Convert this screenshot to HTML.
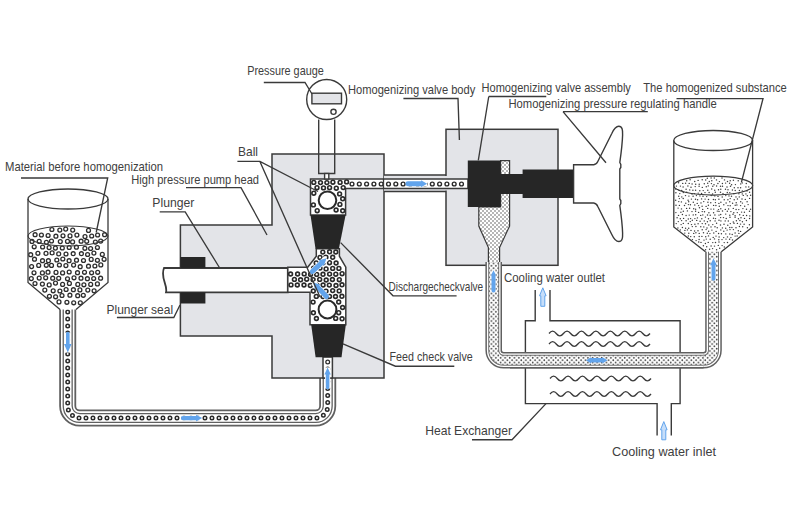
<!DOCTYPE html><html><head><meta charset="utf-8"><style>html,body{margin:0;padding:0;background:#fff}svg{display:block}</style></head><body>
<svg width="800" height="520" viewBox="0 0 800 520">
<defs><pattern id="stip" width="4.6" height="4.6" patternUnits="userSpaceOnUse" x="0.3" y="0.2"><rect width="4.6" height="4.6" fill="#fff"/><circle cx="1.15" cy="1.15" r="0.85" fill="#3a3a3a"/><circle cx="3.45" cy="3.45" r="0.85" fill="#3a3a3a"/></pattern><pattern id="stip2" width="4" height="4" patternUnits="userSpaceOnUse"><rect width="4" height="4" fill="#fff"/><circle cx="1" cy="1" r="0.75" fill="#4a4a4a"/><circle cx="3" cy="3" r="0.75" fill="#4a4a4a"/></pattern></defs>
<rect width="800" height="520" fill="#fff"/>
<path d="M67.7,305 V406 A12,12 0 0 0 79.7,418 H315.7 A12,12 0 0 0 327.7,406 V370" fill="none" stroke="#606060" stroke-width="17"/><path d="M67.7,305 V406 A12,12 0 0 0 79.7,418 H315.7 A12,12 0 0 0 327.7,406 V370" fill="none" stroke="#fff" stroke-width="13.4"/><path d="M67.7,305 V406 A12,12 0 0 0 79.7,418 H315.7 A12,12 0 0 0 327.7,406 V370" fill="none" stroke="#606060" stroke-width="10.2"/><path d="M67.7,305 V406 A12,12 0 0 0 79.7,418 H315.7 A12,12 0 0 0 327.7,406 V370" fill="none" stroke="#fff" stroke-width="7.6"/><path d="M67.7,305 V406 A12,12 0 0 0 79.7,418 H315.7 A12,12 0 0 0 327.7,406 V370" fill="none" stroke="#2a2a2a" stroke-width="5.0" stroke-dasharray="0 7" stroke-linecap="round"/><path d="M67.7,305 V406 A12,12 0 0 0 79.7,418 H315.7 A12,12 0 0 0 327.7,406 V370" fill="none" stroke="#fff" stroke-width="2.0" stroke-dasharray="0 7" stroke-linecap="round"/>
<polygon points="28.0,236.0 28.2,235.0 28.9,233.9 30.0,232.9 31.5,231.9 33.4,231.0 35.6,230.1 38.3,229.3 41.2,228.6 44.5,227.9 48.0,227.3 51.7,226.9 55.6,226.5 59.7,226.2 63.8,226.1 68.0,226.0 72.2,226.1 76.3,226.2 80.4,226.5 84.3,226.9 88.0,227.3 91.5,227.9 94.8,228.6 97.7,229.3 100.4,230.1 102.6,231.0 104.5,231.9 106.0,232.9 107.1,233.9 107.8,235.0 108.0,236.0 108.0,282.5 76.0,309.5 60.0,309.5 28.0,282.5" fill="#fff"/>
<g fill="none" stroke="#2e2e2e" stroke-width="1.3"><circle cx="51.9" cy="229.5" r="1.95"/><circle cx="59.8" cy="230.1" r="1.95"/><circle cx="65.7" cy="229.1" r="1.95"/><circle cx="72.7" cy="230.1" r="1.95"/><circle cx="88.5" cy="230.4" r="1.95"/><circle cx="35.1" cy="234.7" r="1.95"/><circle cx="41.4" cy="235.0" r="1.95"/><circle cx="48.1" cy="235.5" r="1.95"/><circle cx="55.9" cy="236.2" r="1.95"/><circle cx="63.0" cy="235.8" r="1.95"/><circle cx="70.0" cy="235.9" r="1.95"/><circle cx="76.9" cy="235.1" r="1.95"/><circle cx="85.0" cy="236.6" r="1.95"/><circle cx="91.7" cy="236.0" r="1.95"/><circle cx="97.6" cy="235.0" r="1.95"/><circle cx="104.6" cy="234.7" r="1.95"/><circle cx="32.0" cy="241.4" r="1.95"/><circle cx="39.2" cy="241.4" r="1.95"/><circle cx="46.4" cy="242.3" r="1.95"/><circle cx="51.5" cy="241.0" r="1.95"/><circle cx="60.3" cy="241.6" r="1.95"/><circle cx="67.5" cy="241.4" r="1.95"/><circle cx="72.6" cy="241.9" r="1.95"/><circle cx="81.1" cy="241.2" r="1.95"/><circle cx="86.7" cy="241.3" r="1.95"/><circle cx="95.4" cy="242.1" r="1.95"/><circle cx="100.7" cy="241.1" r="1.95"/><circle cx="34.2" cy="246.8" r="1.95"/><circle cx="42.6" cy="247.0" r="1.95"/><circle cx="49.1" cy="247.6" r="1.95"/><circle cx="55.4" cy="248.1" r="1.95"/><circle cx="62.3" cy="248.0" r="1.95"/><circle cx="69.2" cy="247.5" r="1.95"/><circle cx="76.4" cy="247.2" r="1.95"/><circle cx="84.9" cy="248.3" r="1.95"/><circle cx="90.6" cy="248.5" r="1.95"/><circle cx="97.4" cy="247.5" r="1.95"/><circle cx="30.7" cy="254.7" r="1.95"/><circle cx="37.9" cy="253.3" r="1.95"/><circle cx="46.0" cy="253.4" r="1.95"/><circle cx="52.1" cy="252.9" r="1.95"/><circle cx="58.7" cy="253.9" r="1.95"/><circle cx="66.0" cy="254.0" r="1.95"/><circle cx="73.2" cy="253.7" r="1.95"/><circle cx="81.4" cy="253.7" r="1.95"/><circle cx="87.6" cy="254.5" r="1.95"/><circle cx="93.9" cy="253.1" r="1.95"/><circle cx="102.3" cy="254.4" r="1.95"/><circle cx="34.5" cy="259.2" r="1.95"/><circle cx="42.5" cy="260.7" r="1.95"/><circle cx="48.4" cy="260.7" r="1.95"/><circle cx="56.8" cy="260.0" r="1.95"/><circle cx="62.8" cy="259.0" r="1.95"/><circle cx="69.1" cy="260.7" r="1.95"/><circle cx="76.5" cy="260.2" r="1.95"/><circle cx="83.5" cy="260.5" r="1.95"/><circle cx="91.2" cy="259.4" r="1.95"/><circle cx="97.4" cy="260.3" r="1.95"/><circle cx="104.1" cy="259.3" r="1.95"/><circle cx="31.6" cy="266.6" r="1.95"/><circle cx="38.7" cy="265.4" r="1.95"/><circle cx="46.3" cy="265.3" r="1.95"/><circle cx="51.5" cy="265.4" r="1.95"/><circle cx="59.4" cy="265.0" r="1.95"/><circle cx="65.9" cy="265.6" r="1.95"/><circle cx="73.6" cy="265.1" r="1.95"/><circle cx="80.2" cy="266.7" r="1.95"/><circle cx="88.5" cy="266.2" r="1.95"/><circle cx="94.9" cy="266.0" r="1.95"/><circle cx="100.8" cy="264.9" r="1.95"/><circle cx="34.0" cy="272.8" r="1.95"/><circle cx="42.4" cy="272.9" r="1.95"/><circle cx="48.0" cy="272.2" r="1.95"/><circle cx="56.0" cy="272.4" r="1.95"/><circle cx="62.6" cy="272.9" r="1.95"/><circle cx="69.2" cy="272.0" r="1.95"/><circle cx="77.5" cy="272.7" r="1.95"/><circle cx="84.5" cy="272.3" r="1.95"/><circle cx="91.6" cy="272.8" r="1.95"/><circle cx="97.7" cy="272.3" r="1.95"/><circle cx="31.3" cy="278.6" r="1.95"/><circle cx="39.2" cy="278.1" r="1.95"/><circle cx="45.7" cy="277.8" r="1.95"/><circle cx="52.7" cy="278.2" r="1.95"/><circle cx="58.7" cy="278.3" r="1.95"/><circle cx="67.5" cy="278.8" r="1.95"/><circle cx="74.0" cy="277.8" r="1.95"/><circle cx="81.0" cy="278.2" r="1.95"/><circle cx="87.4" cy="278.7" r="1.95"/><circle cx="93.7" cy="278.5" r="1.95"/><circle cx="100.6" cy="278.2" r="1.95"/><circle cx="35.0" cy="283.5" r="1.95"/><circle cx="42.4" cy="284.1" r="1.95"/><circle cx="49.2" cy="284.9" r="1.95"/><circle cx="55.5" cy="283.1" r="1.95"/><circle cx="62.6" cy="284.4" r="1.95"/><circle cx="69.4" cy="283.4" r="1.95"/><circle cx="77.8" cy="284.4" r="1.95"/><circle cx="83.9" cy="284.8" r="1.95"/><circle cx="90.7" cy="284.4" r="1.95"/><circle cx="97.4" cy="283.9" r="1.95"/><circle cx="44.8" cy="290.1" r="1.95"/><circle cx="53.2" cy="290.8" r="1.95"/><circle cx="59.9" cy="291.0" r="1.95"/><circle cx="66.1" cy="289.5" r="1.95"/><circle cx="73.4" cy="289.7" r="1.95"/><circle cx="79.9" cy="289.9" r="1.95"/><circle cx="87.8" cy="290.1" r="1.95"/><circle cx="94.1" cy="290.8" r="1.95"/><circle cx="49.4" cy="296.3" r="1.95"/><circle cx="55.6" cy="296.8" r="1.95"/><circle cx="62.0" cy="295.5" r="1.95"/><circle cx="69.9" cy="295.2" r="1.95"/><circle cx="77.7" cy="295.7" r="1.95"/><circle cx="83.3" cy="295.3" r="1.95"/><circle cx="59.0" cy="301.9" r="1.95"/><circle cx="66.9" cy="302.3" r="1.95"/><circle cx="73.7" cy="302.8" r="1.95"/><circle cx="80.3" cy="302.8" r="1.95"/></g>
<g fill="none" stroke="#3a3a3a" stroke-width="1.3">
<ellipse cx="68" cy="199" rx="40" ry="10"/>
<ellipse cx="68" cy="236" rx="40" ry="10" stroke-width="1.1"/>
<path d="M28,199 V282.5 L60,309.5 M108,199 V282.5 L76,309.5"/>
</g>
<rect x="318.7" y="119.5" width="16" height="35" fill="#fff"/>
<polygon points="272,154 384,154 384,378 272,378 272,336 180.4,336 180.4,225 272,225" fill="#e3e4e8" stroke="#3a3a3a" stroke-width="1.5"/>
<rect x="384" y="175" width="62" height="16.5" fill="#e3e4e8"/>
<path d="M384,175 H446 M384,191.5 H446" stroke="#3a3a3a" stroke-width="1.4"/>
<rect x="446" y="129.3" width="112" height="136" fill="#e3e4e8" stroke="#3a3a3a" stroke-width="1.5"/>
<rect x="445" y="176" width="3" height="14.5" fill="#e3e4e8"/>
<path d="M164,268 H287.8 V292.3 H166 C168,285 160,278 164,268 Z" fill="#fff" stroke="#3a3a3a" stroke-width="1.8"/>
<rect x="180.4" y="257" width="25" height="11" fill="#262626"/>
<rect x="180.4" y="292.3" width="25" height="11.2" fill="#262626"/>
<polygon points="310.5,215 310.5,179 468,179 468,188.5 345.6,188.5 345.6,215" fill="#fff" stroke="#3a3a3a" stroke-width="1.5"/>
<polygon points="316.3,248.7 339.4,248.7 339.4,256.2 345.8,267.1 345.8,324.8 310,324.8 310,292.3 287.8,292.3 287.8,267.3 307.7,267.3 316.3,256.2" fill="#fff" stroke="#3a3a3a" stroke-width="1.5"/>
<polygon points="323.0,357 332.4,357 332.4,378 323.0,378" fill="#fff" stroke="#3a3a3a" stroke-width="1.5"/>
<g fill="none" stroke="#2a2a2a" stroke-width="1.6"><circle cx="313.8" cy="182.4" r="1.9"/><circle cx="320.5" cy="182.6" r="1.9"/><circle cx="326.9" cy="182.6" r="1.9"/><circle cx="332.9" cy="182.2" r="1.9"/><circle cx="340.1" cy="182.4" r="1.9"/><circle cx="346.6" cy="181.9" r="1.9"/><circle cx="317.0" cy="187.7" r="1.9"/><circle cx="323.5" cy="187.9" r="1.9"/><circle cx="329.6" cy="187.7" r="1.9"/><circle cx="336.3" cy="188.2" r="1.9"/><circle cx="343.2" cy="187.6" r="1.9"/><circle cx="313.8" cy="193.2" r="1.9"/><circle cx="339.6" cy="193.9" r="1.9"/><circle cx="342.7" cy="198.8" r="1.9"/><circle cx="313.4" cy="204.9" r="1.9"/><circle cx="339.9" cy="204.4" r="1.9"/><circle cx="317.2" cy="210.7" r="1.9"/><circle cx="336.1" cy="210.0" r="1.9"/><circle cx="342.7" cy="210.8" r="1.9"/></g>
<path d="M352,184 H466" stroke="#2a2a2a" stroke-width="5.2" stroke-dasharray="0 7.3" stroke-linecap="round"/><path d="M352,184 H466" stroke="#fff" stroke-width="2.4" stroke-dasharray="0 7.3" stroke-linecap="round"/>
<g fill="none" stroke="#2a2a2a" stroke-width="1.6"><circle cx="322.8" cy="252.1" r="1.9"/><circle cx="329.6" cy="251.8" r="1.9"/><circle cx="335.8" cy="252.0" r="1.9"/><circle cx="320.0" cy="257.4" r="1.9"/><circle cx="325.9" cy="257.2" r="1.9"/><circle cx="332.7" cy="257.3" r="1.9"/><circle cx="316.2" cy="262.9" r="1.9"/><circle cx="323.1" cy="262.8" r="1.9"/><circle cx="329.5" cy="262.7" r="1.9"/><circle cx="336.1" cy="263.0" r="1.9"/><circle cx="313.6" cy="268.1" r="1.9"/><circle cx="320.0" cy="268.1" r="1.9"/><circle cx="326.1" cy="268.9" r="1.9"/><circle cx="332.7" cy="268.4" r="1.9"/><circle cx="338.9" cy="268.4" r="1.9"/><circle cx="290.6" cy="274.0" r="1.9"/><circle cx="297.6" cy="274.0" r="1.9"/><circle cx="304.2" cy="273.9" r="1.9"/><circle cx="310.6" cy="274.4" r="1.9"/><circle cx="316.7" cy="274.4" r="1.9"/><circle cx="323.0" cy="274.3" r="1.9"/><circle cx="329.6" cy="274.1" r="1.9"/><circle cx="335.8" cy="274.2" r="1.9"/><circle cx="342.1" cy="273.7" r="1.9"/><circle cx="294.4" cy="279.4" r="1.9"/><circle cx="300.6" cy="279.8" r="1.9"/><circle cx="306.7" cy="279.2" r="1.9"/><circle cx="313.1" cy="279.7" r="1.9"/><circle cx="319.7" cy="279.4" r="1.9"/><circle cx="326.2" cy="280.0" r="1.9"/><circle cx="332.4" cy="279.5" r="1.9"/><circle cx="339.3" cy="279.7" r="1.9"/><circle cx="291.0" cy="284.9" r="1.9"/><circle cx="297.3" cy="285.0" r="1.9"/><circle cx="304.0" cy="285.0" r="1.9"/><circle cx="310.3" cy="285.5" r="1.9"/><circle cx="316.9" cy="285.1" r="1.9"/><circle cx="323.1" cy="285.0" r="1.9"/><circle cx="329.3" cy="285.1" r="1.9"/><circle cx="336.0" cy="285.5" r="1.9"/><circle cx="342.0" cy="284.8" r="1.9"/><circle cx="313.3" cy="291.0" r="1.9"/><circle cx="320.1" cy="290.3" r="1.9"/><circle cx="326.0" cy="291.1" r="1.9"/><circle cx="332.7" cy="290.6" r="1.9"/><circle cx="339.2" cy="290.9" r="1.9"/><circle cx="316.3" cy="296.4" r="1.9"/><circle cx="323.0" cy="296.6" r="1.9"/><circle cx="329.5" cy="296.4" r="1.9"/><circle cx="335.5" cy="296.5" r="1.9"/><circle cx="341.9" cy="296.3" r="1.9"/><circle cx="313.1" cy="302.1" r="1.9"/><circle cx="338.7" cy="302.0" r="1.9"/><circle cx="342.6" cy="307.5" r="1.9"/><circle cx="313.4" cy="312.8" r="1.9"/><circle cx="338.7" cy="312.7" r="1.9"/><circle cx="316.4" cy="318.5" r="1.9"/><circle cx="335.7" cy="318.4" r="1.9"/><circle cx="342.1" cy="318.8" r="1.9"/></g>
<path d="M327.7,362 V376" stroke="#2a2a2a" stroke-width="5" stroke-dasharray="0 7" stroke-linecap="round"/><path d="M327.7,362 V376" stroke="#fff" stroke-width="2.5" stroke-dasharray="0 7" stroke-linecap="round"/>
<circle cx="327.5" cy="200.3" r="8.8" fill="#fff" stroke="#2a2a2a" stroke-width="2"/>
<circle cx="327.5" cy="309.5" r="8.9" fill="#fff" stroke="#2a2a2a" stroke-width="2"/>
<polygon points="310.5,215 345.6,215 338.9,248.7 315.5,248.7" fill="#262626"/>
<polygon points="311.2,324.8 345.8,324.8 341.5,357.3 315.6,357.3" fill="#262626"/>
<path d="M383.5,179 V188.5" stroke="#3a3a3a" stroke-width="1.3"/>
<g stroke="#3a3a3a" stroke-width="1.4" fill="none">
<path d="M318.7,119.5 V173.5 H334.7 V119.5"/>
<rect x="324.6" y="173.5" width="4.2" height="5.5" fill="#fff"/>
<circle cx="326.7" cy="99.5" r="20" fill="#fff"/>
<rect x="311.9" y="93.2" width="29.6" height="10.6" fill="#e3e4e8"/>
<circle cx="333.5" cy="111.8" r="2.6"/>
</g>
<polygon points="500.6,160.6 509.6,160.6 509.6,226 499.6,247.6 499.6,265.3 488.4,265.3 488.4,247.6 478.8,226 478.8,207 500.6,207" fill="url(#stip2)" stroke="#3a3a3a" stroke-width="1.2"/>
<path d="M467.8,160.6 H500.6 V174 H522.6 V169.5 H573.7 V197.9 H522.6 V193.9 H500.6 V206.9 H467.8 Z" fill="#262626"/>
<path d="M573.6,164.8 H593.7 Q596.5,164.5 597.8,161.5 L611.8,133.5 C613.8,129 616.3,126.2 618.8,126.2 C622.3,126.2 622.8,130 622.6,135 C622.3,145 621,154 619.8,162.5 L620.8,164.5 V167.5 L619.8,169 V199 L620.8,200.5 V203.5 L619.8,205.5 C621,214 622.3,223 622.6,233 C622.8,238 622.3,241.5 618.8,241.5 C616.3,241.5 613.8,238.8 611.8,234.5 L597.8,206.5 Q596.5,203.3 593.7,203 H573.6 Z" fill="#fff" stroke="#3a3a3a" stroke-width="1.4"/>
<path d="M493.7,262 V350.3 A10,10 0 0 0 503.7,360.3 H703.5 A10,10 0 0 0 713.5,350.3 V248" fill="none" stroke="#606060" stroke-width="16.6"/><path d="M493.7,262 V350.3 A10,10 0 0 0 503.7,360.3 H703.5 A10,10 0 0 0 713.5,350.3 V248" fill="none" stroke="#fff" stroke-width="13.6"/><path d="M493.7,262 V350.3 A10,10 0 0 0 503.7,360.3 H703.5 A10,10 0 0 0 713.5,350.3 V248" fill="none" stroke="#707070" stroke-width="11.0"/><path d="M493.7,262 V350.3 A10,10 0 0 0 503.7,360.3 H703.5 A10,10 0 0 0 713.5,350.3 V248" fill="none" stroke="url(#stip)" stroke-width="9.0"/>
<polygon points="673.5,185.6 673.7,184.6 674.4,183.6 675.4,182.7 676.9,181.7 678.8,180.8 681.0,180.0 683.6,179.2 686.6,178.5 689.8,177.9 693.2,177.4 696.9,176.9 700.8,176.6 704.8,176.3 708.9,176.2 713.0,176.1 717.1,176.2 721.2,176.3 725.2,176.6 729.1,176.9 732.8,177.4 736.2,177.9 739.4,178.5 742.4,179.2 745.0,180.0 747.2,180.8 749.1,181.7 750.6,182.7 751.6,183.6 752.3,184.6 752.5,185.6 752.5,227.0 721.3,251.8 705.5,251.8 673.8,227.0" fill="#fff"/>
<g fill="#3a3a3a"><circle cx="707.3" cy="178.3" r="0.72"/><circle cx="711.1" cy="178.0" r="0.72"/><circle cx="714.3" cy="178.0" r="0.72"/><circle cx="722.0" cy="178.0" r="0.72"/><circle cx="686.7" cy="180.7" r="0.72"/><circle cx="690.1" cy="179.8" r="0.72"/><circle cx="694.7" cy="181.5" r="0.72"/><circle cx="698.1" cy="180.4" r="0.72"/><circle cx="702.2" cy="179.8" r="0.72"/><circle cx="705.7" cy="180.0" r="0.72"/><circle cx="709.3" cy="181.5" r="0.72"/><circle cx="711.8" cy="180.7" r="0.72"/><circle cx="716.5" cy="179.9" r="0.72"/><circle cx="719.4" cy="181.6" r="0.72"/><circle cx="724.5" cy="179.9" r="0.72"/><circle cx="727.5" cy="181.5" r="0.72"/><circle cx="730.2" cy="180.8" r="0.72"/><circle cx="733.4" cy="180.3" r="0.72"/><circle cx="738.2" cy="180.8" r="0.72"/><circle cx="678.6" cy="182.8" r="0.72"/><circle cx="682.7" cy="183.4" r="0.72"/><circle cx="685.6" cy="183.2" r="0.72"/><circle cx="689.2" cy="183.4" r="0.72"/><circle cx="692.1" cy="184.0" r="0.72"/><circle cx="695.7" cy="184.3" r="0.72"/><circle cx="699.2" cy="184.3" r="0.72"/><circle cx="704.3" cy="183.7" r="0.72"/><circle cx="707.7" cy="183.2" r="0.72"/><circle cx="711.4" cy="183.6" r="0.72"/><circle cx="714.0" cy="184.7" r="0.72"/><circle cx="717.9" cy="183.5" r="0.72"/><circle cx="722.4" cy="183.5" r="0.72"/><circle cx="725.6" cy="183.1" r="0.72"/><circle cx="729.6" cy="183.3" r="0.72"/><circle cx="731.6" cy="184.7" r="0.72"/><circle cx="735.4" cy="184.6" r="0.72"/><circle cx="740.7" cy="183.9" r="0.72"/><circle cx="742.3" cy="182.9" r="0.72"/><circle cx="746.3" cy="183.5" r="0.72"/><circle cx="676.4" cy="186.1" r="0.72"/><circle cx="680.4" cy="186.1" r="0.72"/><circle cx="683.1" cy="187.0" r="0.72"/><circle cx="687.9" cy="186.0" r="0.72"/><circle cx="691.0" cy="187.3" r="0.72"/><circle cx="695.2" cy="186.6" r="0.72"/><circle cx="699.1" cy="186.2" r="0.72"/><circle cx="702.3" cy="187.4" r="0.72"/><circle cx="706.3" cy="186.8" r="0.72"/><circle cx="708.3" cy="185.9" r="0.72"/><circle cx="712.8" cy="186.2" r="0.72"/><circle cx="716.6" cy="186.0" r="0.72"/><circle cx="720.5" cy="186.3" r="0.72"/><circle cx="722.5" cy="186.2" r="0.72"/><circle cx="727.0" cy="187.0" r="0.72"/><circle cx="730.5" cy="186.2" r="0.72"/><circle cx="734.3" cy="187.7" r="0.72"/><circle cx="738.0" cy="187.7" r="0.72"/><circle cx="740.6" cy="187.8" r="0.72"/><circle cx="745.9" cy="186.9" r="0.72"/><circle cx="748.7" cy="186.9" r="0.72"/><circle cx="675.7" cy="189.1" r="0.72"/><circle cx="678.8" cy="190.1" r="0.72"/><circle cx="681.7" cy="190.4" r="0.72"/><circle cx="686.1" cy="189.2" r="0.72"/><circle cx="689.7" cy="189.9" r="0.72"/><circle cx="692.9" cy="190.2" r="0.72"/><circle cx="695.6" cy="190.2" r="0.72"/><circle cx="699.8" cy="190.7" r="0.72"/><circle cx="703.2" cy="190.6" r="0.72"/><circle cx="707.8" cy="190.2" r="0.72"/><circle cx="711.7" cy="189.0" r="0.72"/><circle cx="714.7" cy="190.2" r="0.72"/><circle cx="718.5" cy="189.8" r="0.72"/><circle cx="720.8" cy="189.3" r="0.72"/><circle cx="725.5" cy="189.3" r="0.72"/><circle cx="728.0" cy="189.7" r="0.72"/><circle cx="732.4" cy="190.0" r="0.72"/><circle cx="735.2" cy="190.5" r="0.72"/><circle cx="739.4" cy="190.5" r="0.72"/><circle cx="742.3" cy="190.9" r="0.72"/><circle cx="747.1" cy="190.9" r="0.72"/><circle cx="675.9" cy="192.8" r="0.72"/><circle cx="679.8" cy="193.6" r="0.72"/><circle cx="683.3" cy="192.5" r="0.72"/><circle cx="686.7" cy="192.3" r="0.72"/><circle cx="692.0" cy="194.0" r="0.72"/><circle cx="694.4" cy="193.6" r="0.72"/><circle cx="698.2" cy="193.1" r="0.72"/><circle cx="701.6" cy="193.4" r="0.72"/><circle cx="705.0" cy="192.6" r="0.72"/><circle cx="709.1" cy="192.5" r="0.72"/><circle cx="712.6" cy="194.0" r="0.72"/><circle cx="715.3" cy="192.3" r="0.72"/><circle cx="720.5" cy="192.2" r="0.72"/><circle cx="723.0" cy="193.8" r="0.72"/><circle cx="727.3" cy="192.5" r="0.72"/><circle cx="729.8" cy="192.6" r="0.72"/><circle cx="733.9" cy="193.7" r="0.72"/><circle cx="738.9" cy="193.7" r="0.72"/><circle cx="742.3" cy="193.9" r="0.72"/><circle cx="745.9" cy="193.9" r="0.72"/><circle cx="749.6" cy="192.3" r="0.72"/><circle cx="678.7" cy="196.2" r="0.72"/><circle cx="681.8" cy="196.9" r="0.72"/><circle cx="685.5" cy="195.6" r="0.72"/><circle cx="688.9" cy="196.1" r="0.72"/><circle cx="693.1" cy="196.3" r="0.72"/><circle cx="696.4" cy="195.6" r="0.72"/><circle cx="699.9" cy="195.9" r="0.72"/><circle cx="703.0" cy="196.3" r="0.72"/><circle cx="706.7" cy="196.6" r="0.72"/><circle cx="711.2" cy="195.5" r="0.72"/><circle cx="714.8" cy="195.9" r="0.72"/><circle cx="718.0" cy="196.4" r="0.72"/><circle cx="722.2" cy="197.0" r="0.72"/><circle cx="725.8" cy="195.6" r="0.72"/><circle cx="729.0" cy="195.9" r="0.72"/><circle cx="731.5" cy="196.3" r="0.72"/><circle cx="736.0" cy="196.9" r="0.72"/><circle cx="739.3" cy="196.9" r="0.72"/><circle cx="743.3" cy="195.4" r="0.72"/><circle cx="747.3" cy="195.8" r="0.72"/><circle cx="750.6" cy="195.3" r="0.72"/><circle cx="675.7" cy="200.2" r="0.72"/><circle cx="679.4" cy="198.6" r="0.72"/><circle cx="683.2" cy="198.5" r="0.72"/><circle cx="688.1" cy="200.3" r="0.72"/><circle cx="691.4" cy="199.1" r="0.72"/><circle cx="695.5" cy="199.3" r="0.72"/><circle cx="697.6" cy="199.7" r="0.72"/><circle cx="701.6" cy="198.9" r="0.72"/><circle cx="705.1" cy="199.1" r="0.72"/><circle cx="708.5" cy="199.5" r="0.72"/><circle cx="713.4" cy="199.5" r="0.72"/><circle cx="715.3" cy="199.7" r="0.72"/><circle cx="718.9" cy="199.3" r="0.72"/><circle cx="724.2" cy="199.7" r="0.72"/><circle cx="727.9" cy="199.8" r="0.72"/><circle cx="730.2" cy="198.6" r="0.72"/><circle cx="734.2" cy="199.7" r="0.72"/><circle cx="737.4" cy="199.0" r="0.72"/><circle cx="742.0" cy="199.0" r="0.72"/><circle cx="745.3" cy="199.4" r="0.72"/><circle cx="749.6" cy="198.4" r="0.72"/><circle cx="678.8" cy="201.6" r="0.72"/><circle cx="681.4" cy="201.9" r="0.72"/><circle cx="685.8" cy="203.2" r="0.72"/><circle cx="688.7" cy="201.8" r="0.72"/><circle cx="693.3" cy="202.3" r="0.72"/><circle cx="697.2" cy="203.4" r="0.72"/><circle cx="701.0" cy="202.9" r="0.72"/><circle cx="703.7" cy="201.6" r="0.72"/><circle cx="707.9" cy="202.2" r="0.72"/><circle cx="710.8" cy="202.7" r="0.72"/><circle cx="715.4" cy="202.6" r="0.72"/><circle cx="718.9" cy="203.4" r="0.72"/><circle cx="720.9" cy="202.2" r="0.72"/><circle cx="726.1" cy="203.0" r="0.72"/><circle cx="729.8" cy="201.8" r="0.72"/><circle cx="732.6" cy="203.3" r="0.72"/><circle cx="736.2" cy="202.8" r="0.72"/><circle cx="740.7" cy="201.8" r="0.72"/><circle cx="742.4" cy="203.1" r="0.72"/><circle cx="747.1" cy="201.8" r="0.72"/><circle cx="676.0" cy="205.2" r="0.72"/><circle cx="679.4" cy="205.4" r="0.72"/><circle cx="684.5" cy="205.5" r="0.72"/><circle cx="688.4" cy="204.6" r="0.72"/><circle cx="690.4" cy="204.8" r="0.72"/><circle cx="694.8" cy="205.0" r="0.72"/><circle cx="698.6" cy="205.6" r="0.72"/><circle cx="702.1" cy="206.2" r="0.72"/><circle cx="706.1" cy="206.4" r="0.72"/><circle cx="708.4" cy="205.3" r="0.72"/><circle cx="713.6" cy="205.4" r="0.72"/><circle cx="715.9" cy="205.5" r="0.72"/><circle cx="719.3" cy="206.3" r="0.72"/><circle cx="723.8" cy="204.7" r="0.72"/><circle cx="728.0" cy="205.6" r="0.72"/><circle cx="730.2" cy="205.8" r="0.72"/><circle cx="735.2" cy="205.3" r="0.72"/><circle cx="736.9" cy="205.0" r="0.72"/><circle cx="740.6" cy="205.6" r="0.72"/><circle cx="744.7" cy="206.3" r="0.72"/><circle cx="748.1" cy="204.6" r="0.72"/><circle cx="678.1" cy="208.1" r="0.72"/><circle cx="681.5" cy="208.9" r="0.72"/><circle cx="686.6" cy="208.4" r="0.72"/><circle cx="689.6" cy="208.3" r="0.72"/><circle cx="693.7" cy="208.8" r="0.72"/><circle cx="695.6" cy="209.2" r="0.72"/><circle cx="699.5" cy="207.8" r="0.72"/><circle cx="702.7" cy="209.4" r="0.72"/><circle cx="707.7" cy="208.4" r="0.72"/><circle cx="711.0" cy="209.1" r="0.72"/><circle cx="713.7" cy="209.1" r="0.72"/><circle cx="718.5" cy="209.6" r="0.72"/><circle cx="720.8" cy="208.8" r="0.72"/><circle cx="725.3" cy="209.4" r="0.72"/><circle cx="728.6" cy="209.0" r="0.72"/><circle cx="733.3" cy="208.4" r="0.72"/><circle cx="736.1" cy="209.5" r="0.72"/><circle cx="738.8" cy="209.6" r="0.72"/><circle cx="742.9" cy="208.6" r="0.72"/><circle cx="746.5" cy="209.3" r="0.72"/><circle cx="750.6" cy="209.2" r="0.72"/><circle cx="675.9" cy="212.6" r="0.72"/><circle cx="680.9" cy="212.2" r="0.72"/><circle cx="683.3" cy="211.3" r="0.72"/><circle cx="687.4" cy="210.9" r="0.72"/><circle cx="692.0" cy="211.6" r="0.72"/><circle cx="695.6" cy="211.2" r="0.72"/><circle cx="698.6" cy="212.4" r="0.72"/><circle cx="702.2" cy="211.6" r="0.72"/><circle cx="704.5" cy="211.7" r="0.72"/><circle cx="708.9" cy="212.7" r="0.72"/><circle cx="713.6" cy="212.7" r="0.72"/><circle cx="717.3" cy="211.1" r="0.72"/><circle cx="719.0" cy="211.4" r="0.72"/><circle cx="722.5" cy="211.0" r="0.72"/><circle cx="727.3" cy="211.2" r="0.72"/><circle cx="730.9" cy="211.6" r="0.72"/><circle cx="733.8" cy="212.7" r="0.72"/><circle cx="737.3" cy="212.6" r="0.72"/><circle cx="741.6" cy="212.1" r="0.72"/><circle cx="744.4" cy="212.3" r="0.72"/><circle cx="749.5" cy="211.2" r="0.72"/><circle cx="678.5" cy="215.4" r="0.72"/><circle cx="682.4" cy="214.5" r="0.72"/><circle cx="686.1" cy="215.5" r="0.72"/><circle cx="689.2" cy="215.1" r="0.72"/><circle cx="693.2" cy="214.9" r="0.72"/><circle cx="695.7" cy="214.7" r="0.72"/><circle cx="700.7" cy="215.4" r="0.72"/><circle cx="702.8" cy="214.9" r="0.72"/><circle cx="707.5" cy="215.0" r="0.72"/><circle cx="710.2" cy="215.2" r="0.72"/><circle cx="714.9" cy="215.0" r="0.72"/><circle cx="719.0" cy="215.1" r="0.72"/><circle cx="720.7" cy="214.5" r="0.72"/><circle cx="725.7" cy="214.1" r="0.72"/><circle cx="729.8" cy="215.3" r="0.72"/><circle cx="733.0" cy="214.3" r="0.72"/><circle cx="735.1" cy="215.7" r="0.72"/><circle cx="739.7" cy="214.8" r="0.72"/><circle cx="743.3" cy="215.4" r="0.72"/><circle cx="746.6" cy="215.5" r="0.72"/><circle cx="749.8" cy="215.9" r="0.72"/><circle cx="677.1" cy="217.7" r="0.72"/><circle cx="680.3" cy="218.8" r="0.72"/><circle cx="683.6" cy="218.4" r="0.72"/><circle cx="688.3" cy="219.0" r="0.72"/><circle cx="690.6" cy="218.6" r="0.72"/><circle cx="694.9" cy="218.6" r="0.72"/><circle cx="697.4" cy="217.9" r="0.72"/><circle cx="701.8" cy="218.7" r="0.72"/><circle cx="705.4" cy="217.1" r="0.72"/><circle cx="708.5" cy="218.7" r="0.72"/><circle cx="713.5" cy="218.2" r="0.72"/><circle cx="715.5" cy="218.6" r="0.72"/><circle cx="720.6" cy="217.6" r="0.72"/><circle cx="723.5" cy="217.6" r="0.72"/><circle cx="726.2" cy="218.5" r="0.72"/><circle cx="730.0" cy="217.2" r="0.72"/><circle cx="735.1" cy="217.2" r="0.72"/><circle cx="738.4" cy="218.7" r="0.72"/><circle cx="741.0" cy="217.8" r="0.72"/><circle cx="744.5" cy="218.4" r="0.72"/><circle cx="749.6" cy="218.5" r="0.72"/><circle cx="678.3" cy="221.6" r="0.72"/><circle cx="681.6" cy="220.6" r="0.72"/><circle cx="686.1" cy="220.7" r="0.72"/><circle cx="690.3" cy="221.6" r="0.72"/><circle cx="692.3" cy="220.2" r="0.72"/><circle cx="696.7" cy="220.4" r="0.72"/><circle cx="700.1" cy="221.3" r="0.72"/><circle cx="704.3" cy="220.9" r="0.72"/><circle cx="707.4" cy="221.8" r="0.72"/><circle cx="710.2" cy="220.8" r="0.72"/><circle cx="715.1" cy="220.9" r="0.72"/><circle cx="719.0" cy="220.3" r="0.72"/><circle cx="720.9" cy="220.9" r="0.72"/><circle cx="725.2" cy="220.9" r="0.72"/><circle cx="728.3" cy="221.0" r="0.72"/><circle cx="733.3" cy="222.0" r="0.72"/><circle cx="736.4" cy="220.7" r="0.72"/><circle cx="739.9" cy="220.5" r="0.72"/><circle cx="742.4" cy="221.7" r="0.72"/><circle cx="746.4" cy="220.5" r="0.72"/><circle cx="676.2" cy="223.6" r="0.72"/><circle cx="681.1" cy="224.6" r="0.72"/><circle cx="683.3" cy="223.4" r="0.72"/><circle cx="688.3" cy="223.5" r="0.72"/><circle cx="691.5" cy="224.6" r="0.72"/><circle cx="694.9" cy="224.2" r="0.72"/><circle cx="698.1" cy="223.8" r="0.72"/><circle cx="702.2" cy="223.6" r="0.72"/><circle cx="705.5" cy="223.8" r="0.72"/><circle cx="708.8" cy="225.0" r="0.72"/><circle cx="712.8" cy="224.6" r="0.72"/><circle cx="716.6" cy="223.3" r="0.72"/><circle cx="720.5" cy="225.0" r="0.72"/><circle cx="724.0" cy="224.3" r="0.72"/><circle cx="727.8" cy="225.2" r="0.72"/><circle cx="730.3" cy="223.6" r="0.72"/><circle cx="734.0" cy="223.3" r="0.72"/><circle cx="737.4" cy="223.4" r="0.72"/><circle cx="740.5" cy="224.1" r="0.72"/><circle cx="744.1" cy="224.2" r="0.72"/><circle cx="749.4" cy="224.7" r="0.72"/><circle cx="677.9" cy="228.0" r="0.72"/><circle cx="682.4" cy="227.5" r="0.72"/><circle cx="685.6" cy="228.3" r="0.72"/><circle cx="688.7" cy="228.2" r="0.72"/><circle cx="692.3" cy="226.6" r="0.72"/><circle cx="695.9" cy="226.5" r="0.72"/><circle cx="700.8" cy="226.8" r="0.72"/><circle cx="703.8" cy="226.9" r="0.72"/><circle cx="707.0" cy="228.0" r="0.72"/><circle cx="711.0" cy="226.9" r="0.72"/><circle cx="715.0" cy="226.7" r="0.72"/><circle cx="717.2" cy="227.8" r="0.72"/><circle cx="722.4" cy="227.9" r="0.72"/><circle cx="725.7" cy="228.2" r="0.72"/><circle cx="729.8" cy="227.5" r="0.72"/><circle cx="731.9" cy="227.5" r="0.72"/><circle cx="736.0" cy="227.8" r="0.72"/><circle cx="739.4" cy="226.5" r="0.72"/><circle cx="742.7" cy="226.7" r="0.72"/><circle cx="747.4" cy="227.8" r="0.72"/><circle cx="680.3" cy="229.9" r="0.72"/><circle cx="684.9" cy="230.4" r="0.72"/><circle cx="687.4" cy="229.9" r="0.72"/><circle cx="691.0" cy="230.4" r="0.72"/><circle cx="694.6" cy="231.0" r="0.72"/><circle cx="698.0" cy="230.7" r="0.72"/><circle cx="702.2" cy="229.8" r="0.72"/><circle cx="706.1" cy="229.6" r="0.72"/><circle cx="708.6" cy="231.2" r="0.72"/><circle cx="711.9" cy="230.1" r="0.72"/><circle cx="716.1" cy="231.4" r="0.72"/><circle cx="720.8" cy="229.9" r="0.72"/><circle cx="723.8" cy="231.2" r="0.72"/><circle cx="727.1" cy="230.1" r="0.72"/><circle cx="730.0" cy="229.6" r="0.72"/><circle cx="733.4" cy="229.6" r="0.72"/><circle cx="738.3" cy="230.7" r="0.72"/><circle cx="740.6" cy="231.4" r="0.72"/><circle cx="684.8" cy="233.1" r="0.72"/><circle cx="688.8" cy="233.2" r="0.72"/><circle cx="693.7" cy="233.4" r="0.72"/><circle cx="695.9" cy="232.8" r="0.72"/><circle cx="699.2" cy="233.4" r="0.72"/><circle cx="703.5" cy="232.8" r="0.72"/><circle cx="707.3" cy="233.3" r="0.72"/><circle cx="709.9" cy="233.6" r="0.72"/><circle cx="713.8" cy="233.0" r="0.72"/><circle cx="718.6" cy="233.5" r="0.72"/><circle cx="721.4" cy="233.7" r="0.72"/><circle cx="725.8" cy="233.9" r="0.72"/><circle cx="729.8" cy="234.0" r="0.72"/><circle cx="732.2" cy="234.5" r="0.72"/><circle cx="735.1" cy="233.0" r="0.72"/><circle cx="738.9" cy="233.4" r="0.72"/><circle cx="688.3" cy="236.0" r="0.72"/><circle cx="690.7" cy="236.6" r="0.72"/><circle cx="694.3" cy="236.7" r="0.72"/><circle cx="699.2" cy="236.5" r="0.72"/><circle cx="701.9" cy="236.4" r="0.72"/><circle cx="705.7" cy="236.8" r="0.72"/><circle cx="708.5" cy="235.9" r="0.72"/><circle cx="713.2" cy="237.4" r="0.72"/><circle cx="716.0" cy="236.1" r="0.72"/><circle cx="719.1" cy="237.0" r="0.72"/><circle cx="723.7" cy="237.6" r="0.72"/><circle cx="727.5" cy="236.9" r="0.72"/><circle cx="730.9" cy="237.6" r="0.72"/><circle cx="735.1" cy="236.1" r="0.72"/><circle cx="737.1" cy="236.0" r="0.72"/><circle cx="692.4" cy="239.6" r="0.72"/><circle cx="696.1" cy="240.6" r="0.72"/><circle cx="699.1" cy="239.5" r="0.72"/><circle cx="704.0" cy="240.1" r="0.72"/><circle cx="706.3" cy="239.1" r="0.72"/><circle cx="710.2" cy="239.3" r="0.72"/><circle cx="714.5" cy="238.9" r="0.72"/><circle cx="718.8" cy="239.8" r="0.72"/><circle cx="722.0" cy="239.6" r="0.72"/><circle cx="726.0" cy="239.1" r="0.72"/><circle cx="729.6" cy="239.3" r="0.72"/><circle cx="732.5" cy="240.0" r="0.72"/><circle cx="698.7" cy="242.0" r="0.72"/><circle cx="701.0" cy="242.4" r="0.72"/><circle cx="705.4" cy="243.5" r="0.72"/><circle cx="708.2" cy="242.4" r="0.72"/><circle cx="712.8" cy="242.6" r="0.72"/><circle cx="715.5" cy="242.5" r="0.72"/><circle cx="719.0" cy="242.0" r="0.72"/><circle cx="724.2" cy="242.6" r="0.72"/><circle cx="727.5" cy="242.5" r="0.72"/><circle cx="703.4" cy="245.8" r="0.72"/><circle cx="706.7" cy="246.7" r="0.72"/><circle cx="711.1" cy="246.0" r="0.72"/><circle cx="714.5" cy="246.1" r="0.72"/><circle cx="718.3" cy="245.4" r="0.72"/><circle cx="722.1" cy="245.6" r="0.72"/><circle cx="724.3" cy="247.0" r="0.72"/><circle cx="705.6" cy="249.7" r="0.72"/><circle cx="709.6" cy="249.2" r="0.72"/><circle cx="712.6" cy="248.6" r="0.72"/><circle cx="716.6" cy="249.7" r="0.72"/><circle cx="719.7" cy="248.3" r="0.72"/></g>
<g fill="none" stroke="#3a3a3a" stroke-width="1.3">
<ellipse cx="713.2" cy="140.5" rx="39.5" ry="10"/>
<ellipse cx="713.2" cy="185.6" rx="39.5" ry="9.5" stroke-width="1.1"/>
<path d="M673.8,140.5 V227 L705.5,251.8 M752.6,140.5 V227 L721.3,251.8"/>
</g>
<g fill="none" stroke="#3a3a3a" stroke-width="1.4">
<path d="M535.2,290 V320.8 H525.4 V403.6 H657.1 V435.6 M671.3,435.6 V403.6 H680.1 V320.8 H550 V290"/>
</g>
<path d="M510,360.3 H703.5" fill="none" stroke="#606060" stroke-width="16.6"/><path d="M510,360.3 H703.5" fill="none" stroke="#fff" stroke-width="13.6"/><path d="M510,360.3 H703.5" fill="none" stroke="#707070" stroke-width="11.0"/><path d="M510,360.3 H703.5" fill="none" stroke="url(#stip)" stroke-width="9.0"/>
<path d="M549,333.5 q3.607142857142857,-4.6 7.214285714285714,0 t7.214285714285714,0 q3.607142857142857,-4.6 7.214285714285714,0 t7.214285714285714,0 q3.607142857142857,-4.6 7.214285714285714,0 t7.214285714285714,0 q3.607142857142857,-4.6 7.214285714285714,0 t7.214285714285714,0 q3.607142857142857,-4.6 7.214285714285714,0 t7.214285714285714,0 q3.607142857142857,-4.6 7.214285714285714,0 t7.214285714285714,0 q3.607142857142857,-4.6 7.214285714285714,0 t7.214285714285714,0" fill="none" stroke="#3a3a3a" stroke-width="1.3"/>
<path d="M549,344 q3.607142857142857,-4.6 7.214285714285714,0 t7.214285714285714,0 q3.607142857142857,-4.6 7.214285714285714,0 t7.214285714285714,0 q3.607142857142857,-4.6 7.214285714285714,0 t7.214285714285714,0 q3.607142857142857,-4.6 7.214285714285714,0 t7.214285714285714,0 q3.607142857142857,-4.6 7.214285714285714,0 t7.214285714285714,0 q3.607142857142857,-4.6 7.214285714285714,0 t7.214285714285714,0 q3.607142857142857,-4.6 7.214285714285714,0 t7.214285714285714,0" fill="none" stroke="#3a3a3a" stroke-width="1.3"/>
<path d="M550,378.5 q3.607142857142857,-4.6 7.214285714285714,0 t7.214285714285714,0 q3.607142857142857,-4.6 7.214285714285714,0 t7.214285714285714,0 q3.607142857142857,-4.6 7.214285714285714,0 t7.214285714285714,0 q3.607142857142857,-4.6 7.214285714285714,0 t7.214285714285714,0 q3.607142857142857,-4.6 7.214285714285714,0 t7.214285714285714,0 q3.607142857142857,-4.6 7.214285714285714,0 t7.214285714285714,0 q3.607142857142857,-4.6 7.214285714285714,0 t7.214285714285714,0" fill="none" stroke="#3a3a3a" stroke-width="1.3"/>
<path d="M550,394 q3.607142857142857,-4.6 7.214285714285714,0 t7.214285714285714,0 q3.607142857142857,-4.6 7.214285714285714,0 t7.214285714285714,0 q3.607142857142857,-4.6 7.214285714285714,0 t7.214285714285714,0 q3.607142857142857,-4.6 7.214285714285714,0 t7.214285714285714,0 q3.607142857142857,-4.6 7.214285714285714,0 t7.214285714285714,0 q3.607142857142857,-4.6 7.214285714285714,0 t7.214285714285714,0 q3.607142857142857,-4.6 7.214285714285714,0 t7.214285714285714,0" fill="none" stroke="#3a3a3a" stroke-width="1.3"/>
<g transform="translate(67.8,333.5) rotate(90.00)"><path d="M-1,0 H19.100000000000023" stroke="#fff" stroke-width="6.0"/><path d="M0,-1.8 H10.600000000000023 L10.600000000000023,-3.75 L19.100000000000023,0 L10.600000000000023,3.75 V1.8 H0 A1.8,1.8 0 0 1 0,-1.8 Z" fill="#62a4ec"/></g>
<g transform="translate(183.1,418.1) rotate(0.00)"><path d="M-1,0 H19.0" stroke="#fff" stroke-width="5.3"/><path d="M0,-2.2 H13.0 L13.0,-3.3 L19.0,0 L13.0,3.3 V2.2 H0 A2.2,2.2 0 0 1 0,-2.2 Z" fill="#62a4ec"/></g>
<g transform="translate(327.6,387.6) rotate(-90.00)"><path d="M-1,0 H20.200000000000045" stroke="#fff" stroke-width="5.1"/><path d="M0,-1.8 H13.200000000000045 L13.200000000000045,-3.2 L20.200000000000045,0 L13.200000000000045,3.2 V1.8 H0 A1.8,1.8 0 0 1 0,-1.8 Z" fill="#62a4ec"/></g>
<g transform="translate(312.3,271.5) rotate(-42.91)"><path d="M-1,0 H19.387624919004374" stroke="#fff" stroke-width="6.0"/><path d="M0,-2.5 H12.387624919004374 L12.387624919004374,-3.75 L19.387624919004374,0 L12.387624919004374,3.75 V2.5 H0 A2.5,2.5 0 0 1 0,-2.5 Z" fill="#62a4ec"/></g>
<g transform="translate(326.5,296.5) rotate(-133.32)"><path d="M-1,0 H19.2416215532891" stroke="#fff" stroke-width="5.6"/><path d="M0,-2.5 H13.2416215532891 L13.2416215532891,-3.5 L19.2416215532891,0 L13.2416215532891,3.5 V2.5 H0 A2.5,2.5 0 0 1 0,-2.5 Z" fill="#62a4ec"/></g>
<g transform="translate(407.9,183.75) rotate(0.00)"><path d="M-1,0 H19.200000000000045" stroke="#fff" stroke-width="5.4"/><path d="M0,-2.4 H13.200000000000045 L13.200000000000045,-3.4 L19.200000000000045,0 L13.200000000000045,3.4 V2.4 H0 A2.4,2.4 0 0 1 0,-2.4 Z" fill="#62a4ec"/></g>
<g transform="translate(493.5,290.4) rotate(-90.00)"><path d="M-1,0 H20.19999999999999" stroke="#fff" stroke-width="4.0"/><path d="M0,-2.0 H15.199999999999989 L15.199999999999989,-2.5 L20.19999999999999,0 L15.199999999999989,2.5 V2.0 H0 A2.0,2.0 0 0 1 0,-2.0 Z" fill="#62a4ec"/></g>
<path d="M586,360.3 L591,357.2 V358.1 H602.5 V357.2 L607.5,360.3 L602.5,363.4 V362.5 H591 V363.4 Z" fill="#62a4ec"/>
<g transform="translate(713.5,278.7) rotate(-90.00)"><path d="M-1,0 H20.399999999999977" stroke="#fff" stroke-width="5.4"/><path d="M0,-2.0 H13.399999999999977 L13.399999999999977,-3.4 L20.399999999999977,0 L13.399999999999977,3.4 V2.0 H0 A2.0,2.0 0 0 1 0,-2.0 Z" fill="#62a4ec"/></g>
<path d="M542.8,287.8 L546.1,295.8 H544.8 V306.3 H540.8 V295.8 H539.5 Z" fill="#c6defa" stroke="#62a4ec" stroke-width="1.0"/>
<path d="M663.8,421.6 L667.1,429.8 H665.8 V439.8 H661.8 V429.8 H660.5 Z" fill="#c6defa" stroke="#62a4ec" stroke-width="1.0"/>
<g fill="none" stroke="#3a3a3a" stroke-width="1.35">
<path d="M21,178 H107.7 L96.2,232.5"/>
<path d="M186,187.6 H241 L267,235"/>
<path d="M159.7,211.9 H185.2 L219.4,267.5"/>
<path d="M237.4,161.4 H259.9 L318,191.5 M259.9,161.4 L320,297"/>
<path d="M263.8,82.5 H305 L312,94"/>
<path d="M403.4,98.5 H458 L459.4,140"/>
<path d="M488.75,96.5 H546.25 M488.75,96.5 L478.3,160.4"/>
<path d="M563,111.6 H647.8 M563,111.6 L606,162.8"/>
<path d="M676.5,98.6 H763 L741.4,182.4"/>
<path d="M340.6,242.6 L393,295.8 H456.6"/>
<path d="M343,343.8 L395.4,366.2 H454.3"/>
<path d="M116.9,317.5 H173.8 L180,305"/>
<path d="M472,439.7 H512 L546,403.6"/>
</g>
<g style="font-family:'Liberation Sans',sans-serif" fill="#404040">
<text x="5" y="171" textLength="158.0" lengthAdjust="spacingAndGlyphs" font-size="12.8">Material before homogenization</text>
<text x="131.3" y="184" textLength="127.7" lengthAdjust="spacingAndGlyphs" font-size="12.8">High pressure pump head</text>
<text x="152.3" y="206.7" textLength="42.0" lengthAdjust="spacingAndGlyphs" font-size="12.8">Plunger</text>
<text x="238" y="156" textLength="20.0" lengthAdjust="spacingAndGlyphs" font-size="12.8">Ball</text>
<text x="247.2" y="75.3" textLength="76.6" lengthAdjust="spacingAndGlyphs" font-size="12.8">Pressure gauge</text>
<text x="348" y="94" textLength="127.3" lengthAdjust="spacingAndGlyphs" font-size="12.8">Homogenizing valve body</text>
<text x="481.5" y="91.5" textLength="149.4" lengthAdjust="spacingAndGlyphs" font-size="12.8">Homogenizing valve assembly</text>
<text x="508.4" y="108" textLength="208.3" lengthAdjust="spacingAndGlyphs" font-size="12.8">Homogenizing pressure regulating handle</text>
<text x="643.3" y="91.5" textLength="143.5" lengthAdjust="spacingAndGlyphs" font-size="12.8">The homogenized substance</text>
<text x="388.5" y="290.7" textLength="94.7" lengthAdjust="spacingAndGlyphs" font-size="12.8">Dischargecheckvalve</text>
<text x="389.6" y="360.5" textLength="83.2" lengthAdjust="spacingAndGlyphs" font-size="12.8">Feed check valve</text>
<text x="106.5" y="313.8" textLength="66.6" lengthAdjust="spacingAndGlyphs" font-size="12.8">Plunger seal</text>
<text x="504" y="281.8" textLength="101.0" lengthAdjust="spacingAndGlyphs" font-size="12.8">Cooling water outlet</text>
<text x="425.2" y="434.8" textLength="86.8" lengthAdjust="spacingAndGlyphs" font-size="12.8">Heat Exchanger</text>
<text x="612" y="456" textLength="104.0" lengthAdjust="spacingAndGlyphs" font-size="12.8">Cooling water inlet</text>
</g>
</svg></body></html>
